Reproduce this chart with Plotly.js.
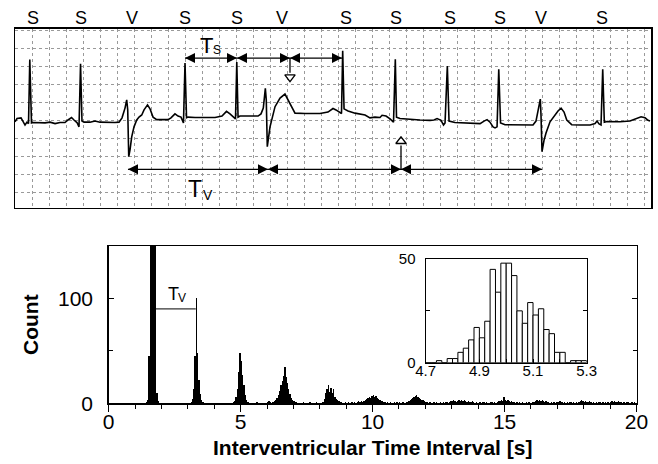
<!DOCTYPE html>
<html><head><meta charset="utf-8">
<script src="https://cdn.plot.ly/plotly-3.0.1.min.js"></script>
<style>html,body{margin:0;padding:0;background:#fff;}#chart{width:658px;height:464px;}</style>
</head><body><div id="chart"></div>
<script>
// ---------- ECG strip (time in s, amplitude in mV) ----------
const ecgTime = [
 0.000,0.024,0.071,0.094,0.118,0.141,0.159,0.174,0.194,0.212,
 0.294,0.353,0.412,0.471,0.529,0.588,0.624,0.665,0.694,0.729,
 0.753,0.771,0.788,0.812,0.882,0.941,1.000,1.059,1.118,1.176,
 1.224,1.259,1.294,1.314,1.326,1.338,1.353,1.373,1.400,1.432,
 1.459,1.491,1.518,1.559,1.588,1.624,1.667,1.729,1.800,1.835,
 1.882,1.918,1.953,1.982,2.000,2.018,2.035,2.118,2.235,2.353,
 2.435,2.488,2.529,2.565,2.594,2.609,2.624,2.647,2.765,2.859,
 2.894,2.921,2.945,2.956,2.968,3.000,3.059,3.118,3.176,3.235,
 3.294,3.412,3.588,3.682,3.741,3.776,3.824,3.841,3.855,3.871,
 3.918,4.000,4.118,4.176,4.235,4.294,4.318,4.365,4.412,4.453,
 4.474,4.488,4.529,4.647,4.765,4.882,4.929,4.965,5.012,5.041,
 5.059,5.086,5.106,5.176,5.353,5.471,5.518,5.553,5.588,5.624,
 5.647,5.671,5.691,5.712,5.765,5.882,6.000,6.094,6.129,6.159,
 6.180,6.188,6.200,6.224,6.247,6.294,6.353,6.388,6.424,6.459,
 6.491,6.549,6.647,6.765,6.824,6.847,6.871,6.894,6.914,6.933,
 6.965,7.118,7.235,7.306,7.365,7.412,7.447,7.471
];
const ecgVoltage = [
 -0.05,0.04,0.06,-0.03,-0.14,-0.06,-0.10,1.68,-0.08,-0.07,
 -0.08,-0.08,-0.06,-0.10,-0.07,-0.07,0.00,0.07,0.00,-0.07,
 -0.19,1.56,-0.03,-0.06,-0.06,-0.03,-0.06,-0.07,-0.06,-0.07,
 -0.06,0.06,0.33,0.56,0.28,-1.02,-0.83,-0.47,-0.19,0.00,
 0.08,0.14,0.28,0.42,0.31,0.08,0.01,0.01,0.01,0.06,
 0.17,0.11,0.08,-0.08,1.58,0.06,0.08,0.07,0.08,0.07,
 0.11,0.24,0.17,0.08,0.03,1.61,0.08,0.11,0.10,0.11,
 0.17,0.33,0.88,0.56,-0.74,-0.19,0.37,0.61,0.72,0.46,
 0.19,0.18,0.18,0.22,0.32,0.28,0.22,0.18,1.92,0.31,
 0.25,0.19,0.14,0.06,0.08,0.07,0.13,0.11,0.03,-0.06,
 1.69,0.08,0.04,0.01,0.00,-0.01,0.00,0.04,-0.01,-0.14,
 -0.08,1.50,-0.03,-0.07,-0.08,-0.10,-0.03,0.01,-0.06,-0.19,
 -0.22,-0.19,1.41,-0.08,-0.13,-0.14,-0.14,-0.14,-0.03,0.28,
 0.58,0.14,-0.88,-0.56,-0.36,-0.05,0.14,0.25,0.33,0.22,
 0.00,-0.13,-0.14,-0.14,-0.10,-0.03,-0.11,-0.14,1.41,-0.06,
 -0.04,-0.05,-0.03,0.03,0.09,0.06,-0.01,-0.03
];
const beatLabels = ['S','S','V','S','S','V','S','S','S','S','V','S'];
const beatLabelTimes = [0.212,0.776,1.376,2.000,2.612,3.141,3.894,4.482,5.118,5.706,6.188,6.906];
const sinusMarks = [2.000, 2.612, 3.235, 3.847];       // Ts arrows
const ventricularMarks = [1.329, 2.976, 4.541, 6.200]; // Tv arrows
const hiddenSinusTime = 3.235;
const hiddenVentricularTime = 4.541;

// ---------- interventricular interval histogram ----------
const histBinStart = 0;
const histBinWidth = 0.05;
const histCounts = [
 0,0,0,0,0,0,0,0,0,0, 0,0,0,0,0,0,0,0,0,0,
 0,0,0,0,0,0,0,0,1,3, 45,200,210,210,210,150,10,2,0,0,
 0,0,0,0,0,0,0,0,0,0, 0,0,0,0,0,0,0,0,0,0,
 0,0,1,4,14,45,100,48,22,9, 3,1,0,0,0,0,0,0,0,0,
 0,0,0,0,0,0,0,0,0,0, 0,0,0,0,1,2,6,14,30,48,
 40,27,17,8,3,1,0,0,0,0, 0,0,1,0,0,0,0,0,0,0,
 1,2,1,0,1,2,3,5,8,12, 17,21,26,35,25,19,14,9,5,3,
 2,1,1,0,0,0,0,1,0,0, 0,0,1,0,0,0,0,1,0,0,
 0,0,1,4,10,14,17,11,15,10, 14,6,4,3,2,1,1,0,0,1,
 0,1,0,0,1,0,1,0,1,2, 1,2,1,2,3,4,5,6,5,7,
 8,6,7,5,4,3,2,2,1,1, 0,1,0,1,0,0,1,0,1,0,
 1,0,1,1,0,1,1,2,3,4, 5,6,7,8,6,5,4,3,3,2,
 1,1,0,1,0,0,1,0,1,0, 0,1,0,1,0,1,1,0,1,2,
 2,3,2,1,2,3,2,3,2,3, 2,1,2,1,1,2,1,0,1,0,
 0,1,0,1,1,0,1,0,0,1, 1,0,1,0,1,2,2,3,2,6,
 3,2,3,2,1,2,1,1,0,1, 0,1,0,1,0,0,1,0,1,0,
 0,1,1,2,3,2,3,2,3,2, 1,2,1,1,0,1,0,1,0,1,
 1,2,2,1,0,1,0,1,0,1, 1,0,1,0,1,0,1,2,3,2,
 1,2,1,1,2,1,0,1,0,1, 0,1,1,0,1,0,1,0,1,0,
 1,2,1,2,1,1,2,1,1,0, 1,0,1,1,0,0,1,0,1,0
];
const insetBinStart = 4.70;
const insetBinWidth = 0.02;
const insetCounts = [0,0,1,0,2,2,5,7,11,17,12,20,45,34,48,48,42,25,19,29,23,26,16,14,5,5,0,1,1,1];
const tvBracketFrom = 1.78, tvBracketTo = 3.30, tvBracketLevel = 90;

// ---------- geometry helpers ----------
const W = 658, H = 464;
const FONT = 'Liberation Sans, Arial, Helvetica, sans-serif';
const fx = p => p / W, fy = p => 1 - p / H;
const topRowV = 1.72, bottomRowV = -1.37;

const traces = [
  {type:'bar', x0: histBinStart + histBinWidth/2, dx: histBinWidth, y: histCounts,
   xaxis:'x', yaxis:'y', marker:{color:'#000', line:{width:0}}, hoverinfo:'skip'},
  {type:'scatter', mode:'lines', x: ecgTime, y: ecgVoltage, xaxis:'x2', yaxis:'y2',
   line:{color:'#000', width:1.6}, hoverinfo:'skip'},
  {type:'bar', x0: insetBinStart + insetBinWidth/2, dx: insetBinWidth, y: insetCounts,
   xaxis:'x3', yaxis:'y3', marker:{color:'#fff', line:{color:'#000', width:1}}, hoverinfo:'skip'},
  {type:'scatter', mode:'lines', x:[hiddenSinusTime, hiddenSinusTime], y:[topRowV, 1.31], xaxis:'x2', yaxis:'y2',
   line:{color:'#000', width:1.3}, hoverinfo:'skip'},
  {type:'scatter', mode:'markers', x:[hiddenSinusTime], y:[1.19], xaxis:'x2', yaxis:'y2',
   marker:{symbol:'triangle-down-open', size:9, color:'#000', line:{width:1.3}}, hoverinfo:'skip'},
  {type:'scatter', mode:'lines', x:[hiddenVentricularTime, hiddenVentricularTime], y:[bottomRowV, -0.71], xaxis:'x2', yaxis:'y2',
   line:{color:'#000', width:1.3}, hoverinfo:'skip'},
  {type:'scatter', mode:'markers', x:[hiddenVentricularTime], y:[-0.59], xaxis:'x2', yaxis:'y2',
   marker:{symbol:'triangle-up-open', size:9, color:'#000', line:{width:1.3}}, hoverinfo:'skip'}
];

// double-headed interval arrows (Ts row and Tv row)
function dblArrow(t0, t1, v){
  return {type:'scatter', mode:'lines+markers', x:[t0, t1], y:[v, v], xaxis:'x2', yaxis:'y2',
    line:{color:'#000', width:1.3},
    marker:{symbol:['arrow-left','arrow-right'], size:10, color:'#000', line:{width:0}}, hoverinfo:'skip'};
}
for (let i = 0; i < sinusMarks.length - 1; i++) traces.push(dblArrow(sinusMarks[i], sinusMarks[i+1], topRowV));
for (let i = 0; i < ventricularMarks.length - 1; i++) traces.push(dblArrow(ventricularMarks[i], ventricularMarks[i+1], bottomRowV));

function label(xref, yref, x, y, text, size){
  return {xref:xref, yref:yref, x:x, y:y, text:text, showarrow:false, borderpad:0,
    font:{family:FONT, size:size, color:'#000'}, xanchor:'center', yanchor:'middle'};
}
const annotations = [];
beatLabels.forEach((lab, i) => annotations.push(label('x2', 'paper', beatLabelTimes[i], fy(18), lab, 18)));
// T_S and T_V symbols (main letter + subscript letter)
annotations.push(label('x2', 'y2', 2.247, 2.083, 'T', 22));
annotations.push(label('x2', 'y2', 2.376, 1.958, 'S', 12));
annotations.push(label('x2', 'y2', 2.118, -1.903, 'T', 23));
annotations.push(label('x2', 'y2', 2.275, -2.083, 'V', 14));
annotations.push(label('x', 'y', 2.462, 104.1, 'T', 18));
annotations.push(label('x', 'y', 2.777, 100.3, 'V', 12));
annotations.push({xref:'paper', yref:'paper', x:fx(372), y:fy(447), text:'<b>Interventricular Time Interval [s]</b>',
  showarrow:false, font:{family:FONT, size:21, color:'#000'}, xanchor:'center', yanchor:'middle'});
annotations.push({xref:'paper', yref:'paper', x:fx(30), y:fy(325), text:'<b>Count</b>', textangle:-90,
  showarrow:false, font:{family:FONT, size:21, color:'#000'}, xanchor:'center', yanchor:'middle'});

const layout = {
  width:W, height:H, margin:{l:0, r:0, t:0, b:0},
  paper_bgcolor:'#fff', plot_bgcolor:'rgba(0,0,0,0)', showlegend:false, bargap:0,
  font:{family:FONT, color:'#000'},
  xaxis:{domain:[fx(108.7), fx(636.5)], range:[0,20], anchor:'y', tickvals:[0,5,10,15,20],
    ticks:'outside', ticklen:7, tickwidth:1.2, tickcolor:'#000', showline:true, linewidth:1.5, linecolor:'#000',
    mirror:true, zeroline:false, showgrid:false, tickfont:{size:21}, ticklabelstandoff:-8,
    minor:{dtick:1, tick0:0, ticks:'outside', ticklen:4, tickwidth:1, tickcolor:'#000', showgrid:false}},
  yaxis:{domain:[fy(403.3), fy(246)], range:[0,150], anchor:'x', tickvals:[0,100],
    ticks:'inside', ticklen:5, tickwidth:1.2, tickcolor:'#000', showline:true, linewidth:1.5, linecolor:'#000',
    mirror:'ticks', zeroline:false, showgrid:false, tickfont:{size:21}, ticklabelstandoff:10,
    minor:{tickvals:[50,150], ticks:'inside', ticklen:4, tickwidth:1, tickcolor:'#000', showgrid:false}},
  xaxis2:{domain:[fx(15), fx(651)], range:[0,7.482], anchor:'y2', showticklabels:false, ticks:'',
    showline:true, linewidth:1.5, linecolor:'#000', mirror:true, zeroline:false,
    showgrid:true, tick0:0, dtick:0.2, griddash:'dot', gridcolor:'#9a9a9a', gridwidth:1},
  yaxis2:{domain:[fy(207.5), fy(28.5)], range:[-2.4306,2.5417], anchor:'x2', showticklabels:false, ticks:'',
    showline:true, linewidth:1.5, linecolor:'#000', mirror:true, zeroline:false,
    showgrid:true, tick0:0, dtick:0.5, griddash:'dot', gridcolor:'#9a9a9a', gridwidth:1},
  xaxis3:{domain:[fx(425.7), fx(586.7)], range:[4.7,5.3], anchor:'y3',
    tickvals:[4.7,4.9,5.1,5.3], ticklabelstandoff:-6,
    ticks:'inside', ticklen:4, tickcolor:'#000', showline:true, linewidth:1.2, linecolor:'#000', mirror:true,
    zeroline:false, showgrid:false, tickfont:{size:15},
    minor:{tickvals:[4.8,5.0,5.2], ticks:'inside', ticklen:4, tickcolor:'#000', showgrid:false}},
  yaxis3:{domain:[fy(362.7), fy(259)], range:[0,50], anchor:'x3', tickvals:[0,50], ticklabelstandoff:6,
    ticks:'inside', ticklen:4, tickcolor:'#000', showline:true, linewidth:1.2, linecolor:'#000', mirror:'ticks',
    zeroline:false, showgrid:false, tickfont:{size:15},
    minor:{tickvals:[25], ticks:'inside', ticklen:4, tickcolor:'#000', showgrid:false}},
  shapes:[{type:'line', xref:'x', yref:'y', x0:tvBracketFrom, x1:tvBracketTo, y0:tvBracketLevel, y1:tvBracketLevel,
    line:{color:'#000', width:1}}],
  annotations: annotations
};
Plotly.newPlot('chart', traces, layout, {staticPlot:true, displayModeBar:false});
</script></body></html>
